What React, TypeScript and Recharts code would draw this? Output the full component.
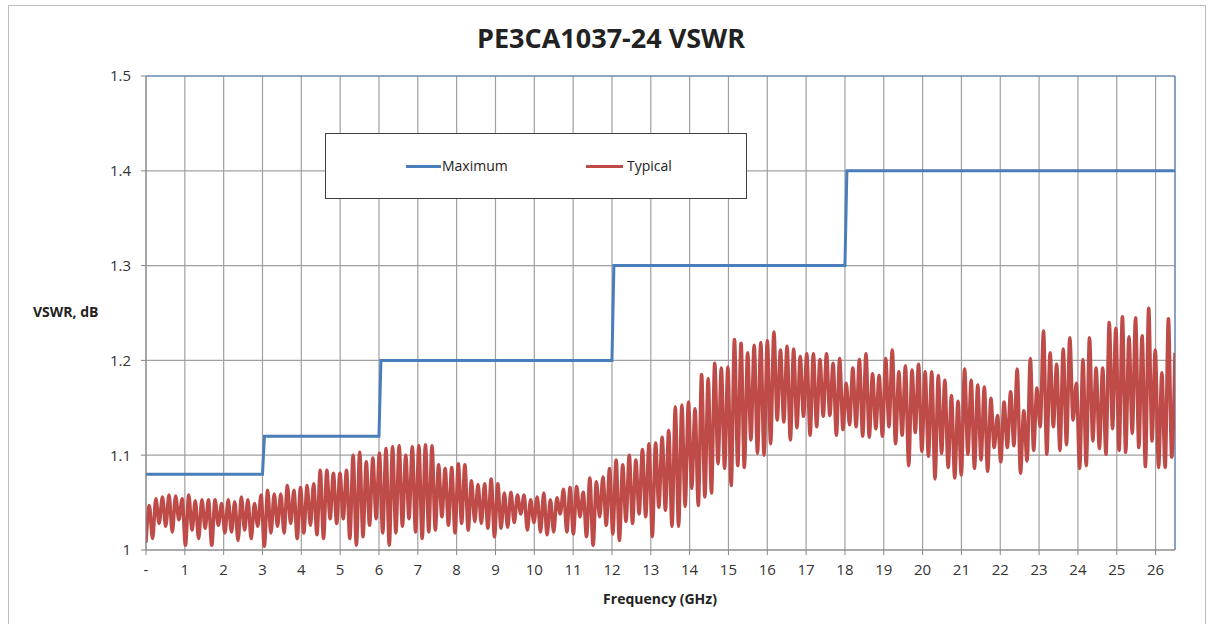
import { LineChart, Line, XAxis, YAxis, CartesianGrid, ReferenceLine } from "recharts";

const FONT = "'Open Sans', 'Liberation Sans', sans-serif";

// axis ticks
const FREQ_TICKS = [0, 1, 2, 3, 4, 5, 6, 7, 8, 9, 10, 11, 12, 13, 14, 15, 16, 17, 18, 19, 20, 21, 22, 23, 24, 25, 26];
const VSWR_TICKS = [1, 1.1, 1.2, 1.3, 1.4, 1.5];
const FREQ_END = 26.5;

// Maximum spec, step line
const MAX_FREQ = [0, 3, 3.05, 6, 6.05, 12, 12.05, 18, 18.05, 26.5];
const MAX_VSWR = [1.08, 1.08, 1.12, 1.12, 1.2, 1.2, 1.3, 1.3, 1.4, 1.4];

// Typical trace: ripple read off as alternating troughs / peaks (~0.17 GHz period)
const TYP_TROUGHS = [
  1.008, 1.012, 1.028, 1.025, 1.019, 1.032, 1.005, 1.021, 1.012, 1.023, 1.005, 1.026, 1.018, 1.019,
  1.010, 1.021, 1.012, 1.025, 1.004, 1.018, 1.025, 1.018, 1.028, 1.012, 1.018, 1.026, 1.016,
  1.012, 1.033, 1.028, 1.033, 1.012, 1.005, 1.014, 1.026, 1.033, 1.018, 1.005, 1.018, 1.025,
  1.033, 1.019, 1.012, 1.019, 1.021, 1.035, 1.026, 1.018, 1.028, 1.021, 1.030, 1.028, 1.023,
  1.014, 1.023, 1.024, 1.029, 1.038, 1.021, 1.029, 1.019, 1.016, 1.019, 1.038, 1.019, 1.017,
  1.035, 1.014, 1.005, 1.035, 1.026, 1.017, 1.010, 1.030, 1.028, 1.038, 1.035, 1.014, 1.045, 1.042,
  1.025, 1.025, 1.046, 1.065, 1.047, 1.056, 1.060, 1.091, 1.086, 1.068, 1.089, 1.087, 1.116,
  1.102, 1.100, 1.112, 1.137, 1.135, 1.116, 1.129, 1.141, 1.121, 1.130, 1.141, 1.142, 1.121, 1.127,
  1.132, 1.130, 1.120, 1.119, 1.128, 1.120, 1.130, 1.112, 1.121, 1.089, 1.124, 1.104, 1.099,
  1.075, 1.102, 1.087, 1.076, 1.079, 1.101, 1.086, 1.095, 1.083, 1.108, 1.093, 1.108, 1.110,
  1.081, 1.094, 1.105, 1.130, 1.101, 1.130, 1.105, 1.111, 1.137, 1.086, 1.089, 1.115,
  1.107, 1.101, 1.128, 1.105, 1.103, 1.123, 1.108, 1.088, 1.115, 1.087, 1.087, 1.098,
];
const TYP_PEAKS = [
  1.047, 1.054, 1.056, 1.058, 1.057, 1.054, 1.058, 1.052, 1.053, 1.053, 1.053, 1.049, 1.053, 1.051,
  1.056, 1.053, 1.049, 1.058, 1.063, 1.059, 1.059, 1.068, 1.063, 1.066, 1.068, 1.070, 1.084,
  1.084, 1.081, 1.081, 1.084, 1.100, 1.103, 1.093, 1.097, 1.102, 1.107, 1.109, 1.110, 1.100,
  1.109, 1.110, 1.111, 1.110, 1.090, 1.086, 1.087, 1.091, 1.090, 1.073, 1.069, 1.070, 1.075,
  1.070, 1.060, 1.061, 1.058, 1.058, 1.053, 1.056, 1.060, 1.053, 1.055, 1.064, 1.066, 1.067,
  1.061, 1.076, 1.072, 1.077, 1.086, 1.095, 1.090, 1.100, 1.095, 1.106, 1.112, 1.113, 1.119, 1.126,
  1.151, 1.153, 1.156, 1.149, 1.185, 1.181, 1.197, 1.192, 1.193, 1.222, 1.218, 1.208, 1.216,
  1.219, 1.221, 1.230, 1.211, 1.215, 1.212, 1.204, 1.207, 1.207, 1.201, 1.207, 1.197, 1.202,
  1.176, 1.192, 1.201, 1.207, 1.186, 1.184, 1.202, 1.211, 1.188, 1.194, 1.190, 1.196, 1.188,
  1.188, 1.184, 1.179, 1.163, 1.157, 1.191, 1.179, 1.174, 1.172, 1.160, 1.142, 1.156, 1.167, 1.191,
  1.147, 1.202, 1.171, 1.231, 1.208, 1.196, 1.212, 1.224, 1.176, 1.201, 1.224, 1.192,
  1.192, 1.240, 1.234, 1.246, 1.225, 1.245, 1.226, 1.255, 1.211, 1.187, 1.244, 1.208,
];

const maxData = MAX_FREQ.map((f, i) => ({ f, v: MAX_VSWR[i] }));

const typValues: number[] = [];
TYP_TROUGHS.forEach((t, i) => {
  typValues.push(t);
  if (TYP_PEAKS[i] !== undefined) typValues.push(TYP_PEAKS[i]);
});
const typData = typValues.map((v, i) => ({ f: (i * FREQ_END) / (typValues.length - 1), v }));

const BLUE = "#4a7ebb";
const RED = "#be4b48";
const GRID = "#a0a0a0";
const AXIS = "#868686";

export default function App() {
  const tickStyle = { fill: "#333", fontSize: 15, fontFamily: FONT };
  return (
    <div style={{ position: "absolute", left: 0, top: 0, width: 1212, height: 624, overflow: "hidden", background: "#fff", fontFamily: FONT }}>
      <div style={{ position: "absolute", left: 8, top: 5, width: 1196, height: 660, border: "1.5px solid #bdbdbd" }} />
      <div style={{ position: "absolute", left: 0, top: 19, width: 1222, textAlign: "center", fontWeight: 700, fontSize: 27, color: "#222" }}>
        PE3CA1037-24 VSWR
      </div>
      <LineChart width={1212} height={624} margin={{ top: 76, right: 37, bottom: 44, left: 0 }} style={{ position: "absolute", left: 0, top: 0 }}>
        <CartesianGrid stroke={GRID} strokeWidth={1.2} />
        <XAxis
          dataKey="f"
          type="number"
          domain={[0, FREQ_END]}
          ticks={FREQ_TICKS}
          tickFormatter={(f: number) => (f === 0 ? "-" : String(f))}
          allowDataOverflow
          height={30}
          tickSize={5}
          tickMargin={9}
          stroke={AXIS}
          tick={tickStyle}
          interval={0}
        />
        <YAxis
          type="number"
          domain={[1, 1.5]}
          ticks={VSWR_TICKS}
          tickFormatter={(v: number) => String(Math.round(v * 10) / 10)}
          width={146}
          tickSize={5}
          tickMargin={10}
          stroke={AXIS}
          tick={tickStyle}
          allowDataOverflow
        />
        <ReferenceLine y={1.5} stroke={BLUE} strokeWidth={1} />
        <ReferenceLine x={FREQ_END} stroke={BLUE} strokeWidth={1} />
        <Line data={maxData} dataKey="v" type="linear" stroke={BLUE} strokeWidth={3} dot={false} isAnimationActive={false} />
        <Line data={typData} dataKey="v" type="monotone" stroke={RED} strokeWidth={3.5} dot={false} isAnimationActive={false} />
      </LineChart>
      <div style={{ position: "absolute", left: 33, top: 302, fontWeight: 700, fontSize: 14, color: "#222" }}>VSWR, dB</div>
      <div style={{ position: "absolute", left: 0, top: 589, width: 1320, textAlign: "center", fontWeight: 700, fontSize: 14, color: "#222" }}>
        Frequency (GHz)
      </div>
      <div style={{ position: "absolute", left: 325, top: 133, width: 422, height: 66, background: "#fff", border: "1px solid #404040", boxSizing: "border-box" }}>
        <div style={{ position: "absolute", left: 80, top: 31, width: 35, height: 3, background: BLUE }} />
        <div style={{ position: "absolute", left: 116, top: 22, fontSize: 14, color: "#222" }}>Maximum</div>
        <div style={{ position: "absolute", left: 260, top: 31, width: 37, height: 3, background: RED }} />
        <div style={{ position: "absolute", left: 301, top: 22, fontSize: 14, color: "#222" }}>Typical</div>
      </div>
    </div>
  );
}
